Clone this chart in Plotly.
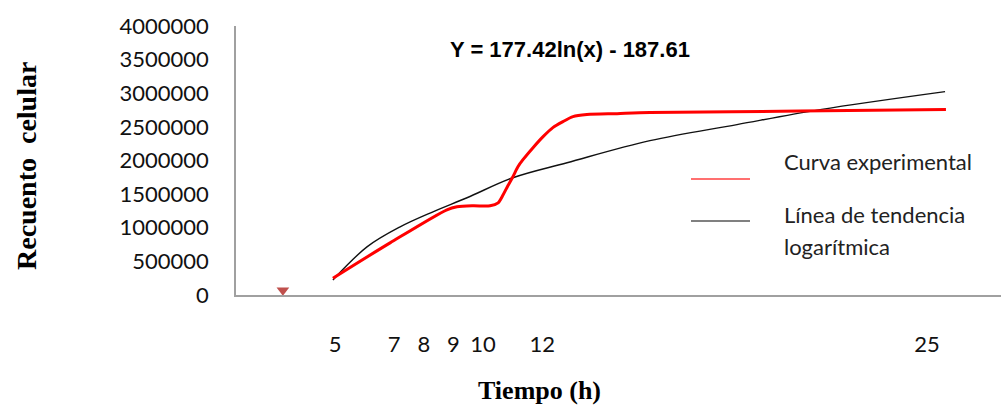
import plotly.graph_objects as go

# Experimental curve (hours, cell count)
exp_hours = [4.93, 6.86, 8.78, 9.12, 9.66, 10.24, 10.51, 10.68, 10.84, 11.01, 11.18,
             11.35, 11.69, 12.03, 12.36, 12.70, 13.04, 13.51, 14.53, 15.64, 20.71, 25.64]
exp_counts = [250000, 775000, 1267000, 1311000, 1326000, 1326000, 1371000, 1490000,
              1624000, 1759000, 1908000, 2012000, 2191000, 2355000, 2489000, 2578000,
              2653000, 2683000, 2697000, 2712000, 2735000, 2757000]

# Logarithmic trend line
trend_hours = [4.93, 6.08, 7.20, 8.31, 9.46, 11.01, 12.84, 15.64, 18.58, 21.39, 25.61]
trend_counts = [224000, 715000, 1013000, 1237000, 1446000, 1744000, 1967000,
                2295000, 2534000, 2757000, 3025000]

# Isolated marker near the origin
marker_hours = [3.24]
marker_counts = [70000]

x_ticks = [5, 7, 8, 9, 10, 12, 25]
y_ticks = [0, 500000, 1000000, 1500000, 2000000, 2500000, 3000000, 3500000, 4000000]

equation = "Y = 177.42ln(x) - 187.61"
legend_exp = "Curva experimental"
legend_trend = ["Línea de tendencia", "logarítmica"]

fig = go.Figure()
fig.add_trace(go.Scatter(x=trend_hours, y=trend_counts, mode="lines",
                         line=dict(color="#111111", width=1.4, shape="spline", smoothing=1.0),
                         showlegend=False, hoverinfo="skip"))
fig.add_trace(go.Scatter(x=exp_hours, y=exp_counts, mode="lines",
                         line=dict(color="#ff0000", width=3, shape="spline", smoothing=0.8),
                         showlegend=False, hoverinfo="skip"))
fig.add_trace(go.Scatter(x=marker_hours, y=marker_counts, mode="markers",
                         marker=dict(symbol="triangle-down", size=11, color="#c0504d"),
                         showlegend=False, hoverinfo="skip"))

L, R, T, B = 236, 0, 26, 113
W, H = 1001, 408
pw, ph = W - L - R, H - T - B

def px(xp):
    return (xp - L) / pw

def py(yp):
    return (H - B - yp) / ph

tick_font = dict(family="Lato", size=22, color="#111111")

fig.update_layout(
    width=W, height=H,
    margin=dict(l=L, r=R, t=T, b=B, autoexpand=False),
    paper_bgcolor="white", plot_bgcolor="white",
    xaxis=dict(range=[5 - 99 / 29.6, 5 + 666 / 29.6], tickvals=x_ticks,
               ticktext=[str(v) for v in x_ticks], showgrid=False, zeroline=False,
               showline=True, linecolor="#a0a0a0", linewidth=2,
               ticks="outside", ticklen=29, tickcolor="rgba(0,0,0,0)",
               tickfont=tick_font),
    yaxis=dict(range=[0, 4000000], tickvals=y_ticks,
               ticktext=[str(v) for v in y_ticks], showgrid=False, zeroline=False,
               showline=True, linecolor="#a0a0a0", linewidth=1.5,
               ticks="outside", ticklen=21, tickcolor="rgba(0,0,0,0)",
               tickfont=tick_font),
)

annotations = [
    dict(text="<b>Recuento  celular</b>", xref="paper", yref="paper", x=0, y=py(166),
         xshift=26 - L, xanchor="center", yanchor="middle", textangle=-90,
         showarrow=False, font=dict(family="Liberation Serif", size=28, color="#000000")),
    dict(text="<b>Tiempo (h)</b>", xref="paper", yref="paper", x=px(539), y=py(390),
         xanchor="center", yanchor="middle", showarrow=False, borderpad=0,
         font=dict(family="Liberation Serif", size=26, color="#000000")),
    dict(text="<b>" + equation + "</b>", xref="paper", yref="paper", x=px(570), y=py(49),
         xanchor="center", yanchor="middle", showarrow=False,
         font=dict(family="Liberation Sans", size=22, color="#000000")),
    dict(text=legend_exp, xref="paper", yref="paper", x=px(782), y=py(161),
         xanchor="left", yanchor="middle", showarrow=False,
         font=dict(family="Lato", size=22, color="#222222")),
    dict(text=legend_trend[0], xref="paper", yref="paper", x=px(782), y=py(214),
         xanchor="left", yanchor="middle", showarrow=False,
         font=dict(family="Lato", size=22, color="#222222")),
    dict(text=legend_trend[1], xref="paper", yref="paper", x=px(782), y=py(246),
         xanchor="left", yanchor="middle", showarrow=False,
         font=dict(family="Lato", size=22, color="#222222")),
]
fig.update_layout(annotations=annotations)

fig.add_shape(type="line", xref="paper", yref="paper", x0=px(691), x1=px(750),
              y0=py(179), y1=py(179), line=dict(color="#ff4040", width=1.5))
fig.add_shape(type="line", xref="paper", yref="paper", x0=px(691), x1=px(750),
              y0=py(221), y1=py(221), line=dict(color="#808080", width=2))

fig.write_html("out.html", config={"displayModeBar": False},
               post_script="document.body.style.margin='0';document.body.style.overflow='hidden';")
